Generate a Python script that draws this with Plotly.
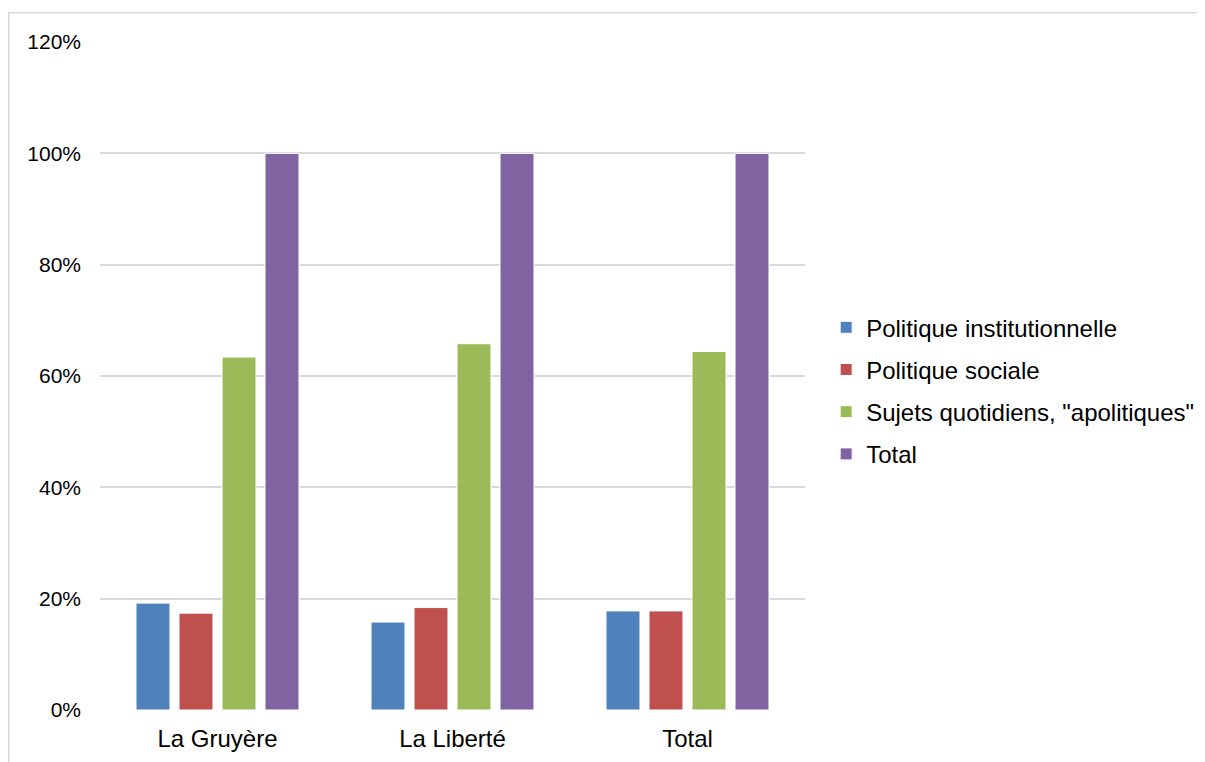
import plotly.graph_objects as go

categories = ["La Gruyère", "La Liberté", "Total"]
series_names = ["Politique institutionnelle", "Politique sociale",
                "Sujets quotidiens, \"apolitiques\"", "Total"]
politique_institutionnelle = [19.2, 15.8, 17.8]
politique_sociale = [17.4, 18.4, 17.8]
sujets_quotidiens = [63.4, 65.8, 64.4]
total = [100, 100, 100]
y_ticks = [0, 20, 40, 60, 80, 100, 120]
y_tick_labels = ["0%", "20%", "40%", "60%", "80%", "100%", "120%"]

colors = ["#4f81bd", "#c0504d", "#9bbb59", "#8064a2"]
values = [politique_institutionnelle, politique_sociale, sujets_quotidiens, total]

FONT = "Arial, Liberation Sans, sans-serif"

fig = go.Figure()
for i, (name, vals) in enumerate(zip(series_names, values)):
    fig.add_trace(go.Bar(
        x=categories, y=vals, name=name,
        marker=dict(color=colors[i], line=dict(color="white", width=1)),
        legendgroup=f"g{i}",
    ))

fig.update_layout(
    width=1205, height=762,
    margin=dict(l=92, r=408, t=34, b=60),
    paper_bgcolor="white", plot_bgcolor="white",
    barmode="group", bargap=0.268, bargroupgap=0.21,
    font=dict(family=FONT, color="#000000"),
    showlegend=True,
    legend=dict(
        x=1.03, y=0.478, xanchor="left", yanchor="middle",
        font=dict(size=24, family=FONT, color="#000000"),
        tracegroupgap=8, itemwidth=30,
        bgcolor="rgba(0,0,0,0)",
    ),
    xaxis=dict(
        showgrid=False, showline=False, zeroline=False,
        tickfont=dict(size=24, family=FONT, color="#000000"),
        ticks="", ticklabelstandoff=12,
    ),
    yaxis=dict(
        range=[0, 120], tickmode="array", tickvals=y_ticks, ticktext=y_tick_labels,
        showgrid=True, gridcolor="#d9d9d9", gridwidth=1.5,
        zeroline=False, showline=False,
        tickfont=dict(size=21, family=FONT, color="#000000"),
        ticks="", ticklabelstandoff=18,
    ),
    shapes=[dict(
        type="rect", xref="paper", yref="paper",
        x0=-0.1294, x1=1.62, y0=-0.3, y1=1.0438,
        line=dict(color="#d9d9d9", width=1.5), fillcolor="rgba(0,0,0,0)",
        layer="below",
    )],
)

fig.write_html("out.html")
